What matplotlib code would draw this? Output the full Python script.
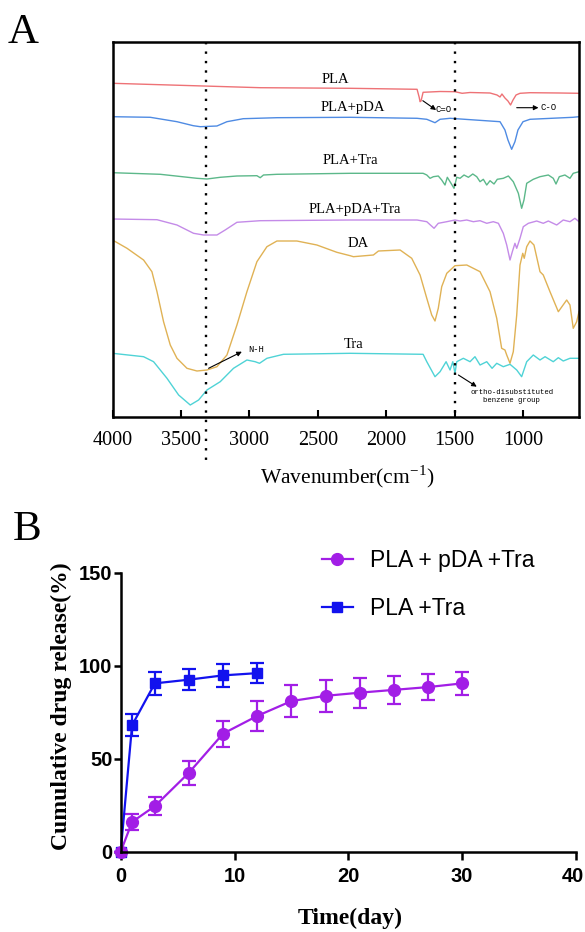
import matplotlib
matplotlib.use('Agg')
import matplotlib.pyplot as plt
from matplotlib.lines import Line2D
import matplotlib.transforms as mtransforms

# ---------------- Panel A: FTIR spectra ----------------
# wavenumber (cm-1) and transmittance (arbitrary, offset units)
pla_wn = [4000, 3335, 2921, 2264, 1775, 1760, 1753, 1746, 1731, 1607, 1498, 1446, 1388, 1242, 1191,
          1169, 1155, 1133, 1111, 1092, 1074, 1052, 1023, 950, 731, 592]
pla_t = [333.4, 330.7, 329, 328.4, 327.4, 319.7, 315, 315.7, 324.4, 325.2, 325, 323.4, 324.2, 323.7, 321.7,
         319.7, 322.7, 318.7, 315.7, 311.7, 316.7, 321.7, 323.4, 324, 323.7, 323.4]

plapda_wn = [4000, 3724, 3529, 3410, 3359, 3237, 3164, 3045, 2799, 2264, 1775, 1704, 1644, 1607, 1534,
             1169, 1133, 1111, 1084, 1060, 1038, 1001, 950, 636, 592]
plapda_t = [300, 299.4, 295, 291, 290, 290.7, 295, 298, 299, 299.4, 298.4, 297.4, 294, 297.4, 298.4,
            295, 286.7, 276.7, 267.4, 275, 286.7, 295, 297.4, 299.4, 300]

platra_wn = [4000, 3651, 3383, 3310, 3213, 3091, 2945, 2921, 2897, 2799, 2264, 1731, 1704, 1680, 1656,
             1620, 1595, 1571, 1554, 1527, 1505, 1485, 1461, 1432, 1400, 1368, 1339, 1315, 1291, 1266,
             1242, 1213, 1189, 1145, 1108, 1072, 1035, 1011, 994, 974, 926, 877, 816, 780, 760, 736,
             695, 658, 634, 592]
platra_t = [244, 242.4, 238.4, 237.7, 239.4, 240.7, 241, 239, 241.7, 242.4, 243.4, 243.4, 241.7, 238.4, 240,
            240.7, 236.7, 231.7, 239.4, 233.4, 228.4, 239.4, 238.4, 241.7, 239.4, 242.7, 240, 235, 237.4, 231.7,
            236, 232.7, 237.4, 238.4, 240.7, 235, 223.4, 208.4, 216.7, 233.4, 237.4, 240, 241.7, 238.4, 232.7, 240,
            241.7, 238.4, 243.4, 245]

plapdatra_wn = [4000, 3675, 3529, 3408, 3335, 3237, 3177, 3091, 2921, 2264, 1775, 1704, 1651, 1620, 1558,
                1498, 1461, 1412, 1364, 1315, 1266, 1218, 1181, 1145, 1120, 1096, 1079, 1060, 1047, 1023,
                999, 962, 901, 853, 816, 755, 707, 658, 622, 592]
plapdatra_t = [197.7, 197, 191.7, 183.4, 181.7, 181.7, 186.7, 194.4, 196, 196.7, 196.7, 195, 188.4, 193.4, 195,
               196.7, 195.7, 196.7, 195, 196, 193.4, 195, 193.4, 183.4, 171.7, 156.7, 165, 173.4, 168.4, 178.4,
               190, 193.4, 195.7, 193.4, 195.7, 191.7, 196.7, 195, 198.4, 195]

da_wn = [4000, 3894, 3773, 3712, 3675, 3627, 3578, 3529, 3456, 3383, 3310, 3237, 3164, 3091, 3018,
         2945, 2872, 2799, 2653, 2507, 2361, 2264, 2240, 2094, 2057, 1899, 1814, 1753, 1704, 1668,
         1644, 1620, 1595, 1558, 1498, 1412, 1315, 1242, 1193, 1157, 1133, 1120, 1096, 1072, 1047,
         1023, 1003, 992, 974, 950, 921, 877, 853, 804, 743, 682, 658, 634, 609, 592]
da_t = [176.7, 168.4, 156.7, 145, 125, 95, 71.7, 58.4, 48.4, 45.7, 46.7, 50, 61.7, 91.7, 125,
        155, 170, 175.7, 175.7, 171.7, 164.4, 161, 160, 161.7, 165.7, 166.7, 158.4, 141.7, 118.4, 101.7,
        95.7, 108.4, 130, 143.4, 151, 151.7, 145, 125, 98.4, 68.4, 66.7, 61.7, 53.4, 65, 101.7,
        151.7, 163.4, 158.4, 170, 175.7, 171.7, 145, 141.7, 125, 105, 116.7, 111.7, 88.4, 95, 105]

tra_wn = [4000, 3773, 3700, 3602, 3517, 3432, 3371, 3310, 3213, 3116, 3018, 2958, 2926, 2872, 2751,
          2264, 1731, 1704, 1644, 1607, 1563, 1534, 1514, 1498, 1485, 1437, 1388, 1352, 1315, 1266,
          1227, 1193, 1145, 1096, 1047, 1011, 974, 926, 877, 840, 780, 743, 707, 658, 592]
tra_t = [63.4, 60, 55, 38.4, 21.7, 11.7, 16.7, 26.7, 35, 48.4, 56.7, 55, 53.4, 58.4, 62.4,
         63.4, 62.4, 55, 40, 45, 55, 46.7, 55, 43.4, 55, 58.4, 55, 60, 51.7, 55,
         48.4, 53.4, 50, 52.4, 46.7, 40, 55, 61.7, 56.7, 60, 55, 59, 55.7, 58.4, 58.4]

spectrum_names = ["PLA", "PLA+pDA", "PLA+Tra", "PLA+pDA+Tra", "DA", "Tra"]
wn_ticks = [4000, 3500, 3000, 2500, 2000, 1500, 1000]
marker_lines_wn = [3317, 1500]

# ---------------- Panel B: drug release ----------------
days_pda_tra = [0, 1, 3, 6, 9, 12, 15, 18, 21, 24, 27, 30]
release_pda_tra = [0, 16, 24.5, 42.5, 63.5, 73, 81, 83.8, 85.5, 87, 88.5, 90.5]
err_pda_tra = [0, 4.5, 4.7, 6.4, 7, 8, 8.4, 8.5, 8.1, 7.4, 7.2, 6.3]

days_tra = [0, 1, 3, 6, 9, 12]
release_tra = [0, 68, 90.5, 92.5, 94.8, 96]
err_tra = [0, 5.8, 6, 5.8, 6.1, 5.2]

time_ticks = [0, 10, 20, 30, 40]
release_ticks = [0, 50, 100, 150]

SERIF = 'Liberation Serif'
SANS = 'Liberation Sans'
MONO = 'Liberation Mono'
plt.rcParams['mathtext.fontset'] = 'stix'

W, H = 585, 932
fig = plt.figure(figsize=(W / 100, H / 100), dpi=100)

# ---------- Panel A ----------
axA = fig.add_axes([112.5 / W, 1 - 416.7 / H, 466.5 / W, 375 / H])
colors = ["#ee7276", "#4f8be3", "#5cb88a", "#c48be8", "#e0b255", "#4fd3d6"]
series = [(pla_wn, pla_t), (plapda_wn, plapda_t), (platra_wn, platra_t),
          (plapdatra_wn, plapdatra_t), (da_wn, da_t), (tra_wn, tra_t)]
for (wn, t), c in zip(series, colors):
    axA.plot(wn, t, color=c, lw=1.0)

axA.set_xlim(4000, 592)
axA.set_ylim(0, 375)
axA.set_yticks([])
axA.set_xticks(wn_ticks)
axA.set_xticklabels([str(v) for v in wn_ticks], fontfamily=SERIF, fontsize=14.5)
axA.tick_params(axis='x', direction='in', length=5, width=1.5, pad=10)
for s in axA.spines.values():
    s.set_linewidth(1.8)

# dotted guide lines
axA.plot([marker_lines_wn[0]] * 2, [375, -43], color='k', lw=1.7, ls=(0, (1, 3)), clip_on=False)
axA.plot([marker_lines_wn[1]] * 2, [375, 0], color='k', lw=1.7, ls=(0, (1, 3)), clip_on=False)

# spectrum labels (x center, baseline)
label_pos = [(2374, 334), (2242, 306), (2264, 252.4), (2228, 204), (2206, 170), (2242, 69)]
for name, (lx, ly) in zip(spectrum_names, label_pos):
    axA.text(lx, ly, name, ha='center', va='baseline', fontfamily=SERIF, fontsize=10.5)

arrow_kw = dict(arrowstyle='-|>', color='k', lw=0.8, mutation_scale=7, shrinkA=0, shrinkB=0)
axA.annotate('', xy=(1636, 306.7), xytext=(1733, 316), arrowprops=arrow_kw)
axA.text(1580, 306.7, 'C=O', ha='center', va='center', fontfamily=MONO, fontsize=6.5)
axA.annotate('', xy=(888, 309), xytext=(1047, 309), arrowprops=arrow_kw)
axA.text(815, 309, 'C-O', ha='center', va='center', fontfamily=MONO, fontsize=6.5)
axA.annotate('', xy=(3055, 65), xytext=(3298, 48.4), arrowprops=arrow_kw)
axA.text(2954, 66.7, 'N-H', ha='center', va='center', fontfamily=MONO, fontsize=6.3)
axA.annotate('', xy=(1339, 30), xytext=(1473, 41.7), arrowprops=arrow_kw)
axA.text(1084, 20, 'ortho-disubstituted\nbenzene group', ha='center', va='center',
         fontfamily=MONO, fontsize=5.3, linespacing=1.3)

fig.text(347 / W, 1 - 483 / H, 'Wavenumber(cm$^{\\mathregular{-1}}$)', ha='center', va='baseline',
         fontfamily=SERIF, fontsize=15.5)
fig.text(23 / W, 1 - 43 / H, 'A', ha='center', va='baseline', fontfamily=SERIF, fontsize=31)

# ---------- Panel B ----------
axB = fig.add_axes([120.7 / W, 1 - 851.7 / H, 455.3 / W, 279 / H])
blue = '#1212ee'
purple = '#a21ee6'
hb = axB.errorbar(days_tra, release_tra, yerr=err_tra, fmt='-s', color=blue, ms=7.5, lw=1.6,
                  elinewidth=1.6, capsize=5, capthick=1.6, clip_on=False)
hp = axB.errorbar(days_pda_tra, release_pda_tra, yerr=err_pda_tra, fmt='-o', color=purple, ms=8.5,
                  lw=1.6, elinewidth=1.6, capsize=5, capthick=1.6, clip_on=False)
for h in (hb, hp):
    for art in h.get_children():
        art.set_clip_on(False)

axB.set_xlim(0, 40)
axB.set_ylim(0, 150)
axB.set_xticks(time_ticks)
axB.set_yticks(release_ticks)
axB.set_xticklabels([str(v) for v in time_ticks], fontfamily=SANS, fontweight='bold', fontsize=14.5)
axB.set_yticklabels([str(v) for v in release_ticks], fontfamily=SANS, fontweight='bold', fontsize=14.5)
axB.spines['top'].set_visible(False)
axB.spines['right'].set_visible(False)
for s in ('left', 'bottom'):
    axB.spines[s].set_linewidth(1.8)
axB.tick_params(axis='x', direction='out', length=6, width=1.8, pad=5)
axB.tick_params(axis='y', direction='out', length=5, width=1.8, pad=1)
last = axB.get_xticklabels()[-1]
last.set_transform(last.get_transform() + mtransforms.ScaledTranslation(-3 / 100, 0, fig.dpi_scale_trans))

h_p = Line2D([], [], color=purple, marker='o', ms=8.5, lw=1.6)
h_b = Line2D([], [], color=blue, marker='s', ms=7.5, lw=1.6)
leg = fig.legend([h_p, h_b], ['PLA + pDA +Tra', 'PLA +Tra'], loc='upper left',
                 bbox_to_anchor=(322 / W, 1 - 549 / H), frameon=False, borderpad=0,
                 borderaxespad=0, handlelength=1.35, handletextpad=0.75, labelspacing=1.1,
                 prop={'family': SANS, 'size': 16.5})

fig.text(61.5 / W, 1 - 706.5 / H, 'Cumulative drug release(%)', rotation=90, ha='center', va='center',
         fontfamily=SERIF, fontweight='bold', fontsize=17)
fig.text(350 / W, 1 - 918 / H, 'Time(day)', ha='center', va='center', fontfamily=SERIF,
         fontweight='bold', fontsize=17)
fig.text(27 / W, 1 - 540 / H, 'B', ha='center', va='baseline', fontfamily=SERIF, fontsize=31)

fig.savefig('out.png', dpi=100)
